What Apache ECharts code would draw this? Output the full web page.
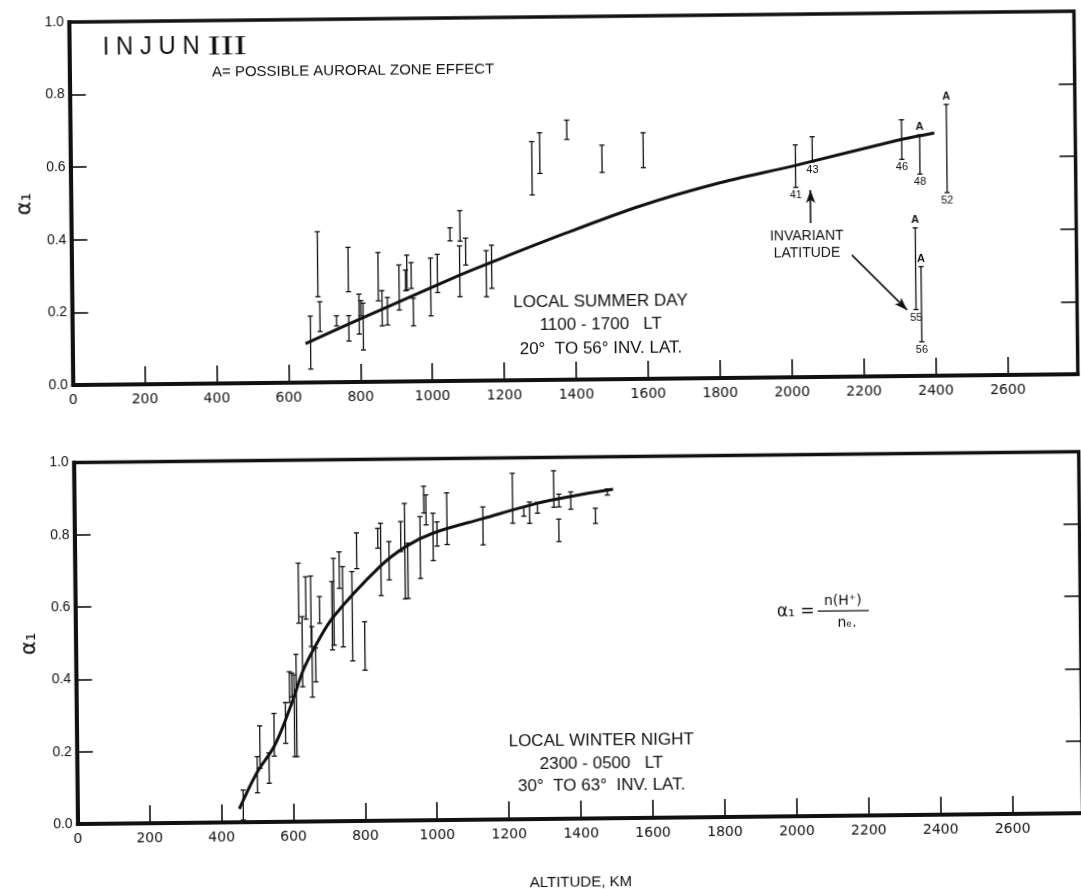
<!DOCTYPE html>
<html><head><meta charset="utf-8">
<script src="https://cdn.jsdelivr.net/npm/echarts@6/dist/echarts.min.js"></script>
<style>
html,body{margin:0;padding:0;background:#fff;overflow:hidden;}
#chart{width:1081px;height:889px;transform:rotate(-0.62deg);transform-origin:540.5px 444.5px;}
</style></head><body><div id="chart"></div>
<script>
// ---- tick labels ----
const altitudeTicks = [0,200,400,600,800,1000,1200,1400,1600,1800,2000,2200,2400,2600];
const alphaTicks = ['0.0','0.2','0.4','0.6','0.8','1.0'];

// ---- Local summer day (top panel) ----
const dayKm = [662,684,689,735,769,769,798,803,809,852,862,877,910,928,932,944,949,998,1017,1053,1081,1079,1096,1153,1168,1283,1305,1381,1478,1593,2016,2063,2312,2362,2437,2347,2362];
const dayLo = [0.037,0.236,0.140,0.155,0.249,0.113,0.132,0.182,0.088,0.223,0.154,0.156,0.197,0.250,0.252,0.256,0.153,0.180,0.244,0.386,0.385,0.232,0.319,0.231,0.254,0.510,0.569,0.662,0.570,0.582,0.523,0.593,0.597,0.556,0.504,0.183,0.094];
const dayHi = [0.183,0.415,0.222,0.183,0.371,0.183,0.242,0.224,0.217,0.356,0.251,0.232,0.321,0.307,0.348,0.327,0.229,0.339,0.349,0.422,0.469,0.372,0.393,0.358,0.373,0.657,0.681,0.715,0.645,0.678,0.640,0.662,0.706,0.664,0.747,0.408,0.301];
const dayInvLat = ['','','','','','','','','','','','','','','','','','','','','','','','','','','','','','','41','43','46','48','52','55','56'];
const dayAuroral = [0,0,0,0,0,0,0,0,0,0,0,0,0,0,0,0,0,0,0,0,0,0,0,0,0,0,0,0,0,0,0,0,0,1,1,1,1];
const dayCurveKm = [648,795,1078,1160,1373,1582,1794,2014,2312,2403];
const dayCurveA  = [0.107,0.171,0.291,0.323,0.403,0.476,0.535,0.583,0.652,0.669];

// ---- Local winter night (bottom panel) ----
const nightKm = [461,501,509,534,549,581,593,600,606,612,621,630,641,655,657,667,679,714,719,735,744,770,784,804,843,851,874,907,918,926,961,972,978,997,1008,1036,1136,1219,1250,1266,1288,1334,1347,1348,1381,1449,1483];
const nightLo = [0.006,0.081,0.149,0.107,0.182,0.217,0.330,0.345,0.180,0.180,0.549,0.373,0.560,0.484,0.344,0.386,0.548,0.474,0.487,0.644,0.482,0.443,0.698,0.417,0.754,0.623,0.666,0.744,0.613,0.614,0.669,0.850,0.817,0.718,0.758,0.762,0.760,0.819,0.838,0.818,0.846,0.862,0.767,0.863,0.856,0.816,0.894];
const nightHi = [0.089,0.181,0.266,0.191,0.300,0.330,0.415,0.411,0.406,0.463,0.715,0.567,0.677,0.679,0.539,0.480,0.622,0.663,0.727,0.745,0.704,0.690,0.797,0.551,0.809,0.823,0.772,0.827,0.877,0.767,0.840,0.924,0.900,0.849,0.825,0.905,0.865,0.957,0.864,0.877,0.876,0.963,0.829,0.898,0.904,0.858,0.911];
const nightCurveKm = [450,499,551,599,632,665,717,848,923,997,1137,1286,1378,1499];
const nightCurveA  = [0.037,0.135,0.213,0.328,0.419,0.483,0.565,0.703,0.759,0.794,0.833,0.873,0.891,0.910];

// annotation arrows (data coordinates, top panel)
const arrowUp = [[2057,0.424],[2057,0.515]];
const arrowDiag = [[2170,0.335],[2322,0.182]];

const INK = '#111';
const F = 'Liberation Sans';

function errorBars(labels, flags){
  return function(params, api){
    const x = api.value(0), lo = api.value(1), hi = api.value(2);
    const a = api.coord([x, lo]), b = api.coord([x, hi]);
    const c = 2.6, st = {stroke: INK, lineWidth: 1.3};
    const ch = [
      {type:'line', shape:{x1:a[0],y1:a[1],x2:b[0],y2:b[1]}, style:st},
      {type:'line', shape:{x1:a[0]-c,y1:a[1],x2:a[0]+c,y2:a[1]}, style:st},
      {type:'line', shape:{x1:b[0]-c,y1:b[1],x2:b[0]+c,y2:b[1]}, style:st}
    ];
    if (labels && labels[params.dataIndex]) {
      ch.push({type:'text', style:{text:labels[params.dataIndex], x:a[0], y:a[1]+8,
        align:'center', verticalAlign:'middle', textAlign:'center', textVerticalAlign:'middle',
        font:'11px "'+F+'"', fill:INK}});
    }
    if (flags && flags[params.dataIndex]) {
      ch.push({type:'text', style:{text:'A', x:b[0], y:b[1]-8,
        align:'center', verticalAlign:'middle', textAlign:'center', textVerticalAlign:'middle',
        font:'bold 11px "'+F+'"', fill:INK}});
    }
    return {type:'group', children: ch};
  };
}

function xAxisCfg(gridIndex, withName){
  const o = {
    type:'value', gridIndex, min:0, max:2795, interval:200,
    axisLine:{show:true, onZero:false, lineStyle:{color:INK, width:4}},
    axisTick:{show:true, inside:true, length:18, lineStyle:{color:INK, width:1.6}},
    axisLabel:{show:true, margin:8, color:INK, fontSize:14, fontFamily:'DejaVu Sans', showMaxLabel:false,
      formatter: v => altitudeTicks.includes(Math.round(v)) ? String(Math.round(v)) : ''},
    splitLine:{show:false}
  };
  if (withName) {
    o.name = 'ALTITUDE, KM'; o.nameLocation = 'middle'; o.nameGap = 56;
    o.nameTextStyle = {color:INK, fontSize:15, fontFamily:F};
  }
  return o;
}
function yAxisCfg(gridIndex, right){
  return {
    type:'value', gridIndex, min:0, max:1, interval:0.2, position: right ? 'right' : 'left',
    name: right ? '' : 'α₁', nameLocation:'middle', nameRotate:90, nameGap:32,
    nameTextStyle:{color:INK, fontSize:21, fontFamily:'DejaVu Sans'},
    axisLine:{show:!right, lineStyle:{color:INK, width:4}},
    axisTick:{show:true, inside:true, length:16, lineStyle:{color:INK, width:1.6}},
    axisLabel:{show:!right, margin:5, color:INK, fontSize:14, fontFamily:F,
      formatter: v => alphaTicks[Math.round(v*5)]},
    splitLine:{show:false}
  };
}

const gridBase = {show:true, borderColor:INK, borderWidth:3.5, containLabel:false, outerBoundsMode:'none'};
const C = {align:'center', verticalAlign:'middle', textAlign:'center', textVerticalAlign:'middle', fill:INK};
function txt(x, y, text, font){ return {type:'text', x, y, style:Object.assign({text, font}, C)}; }

const option = {
  animation:false,
  backgroundColor:'#fff',
  grid:[
    Object.assign({left:73.6, top:17, width:1005, height:363}, gridBase),
    Object.assign({left:73.6, top:457.5, width:1005, height:361.5}, gridBase)
  ],
  xAxis:[xAxisCfg(0,false), xAxisCfg(1,true)],
  yAxis:[yAxisCfg(0,false), yAxisCfg(0,true), yAxisCfg(1,false), yAxisCfg(1,true)],
  series:[
    {type:'custom', xAxisIndex:0, yAxisIndex:0, silent:true,
     renderItem: errorBars(dayInvLat, dayAuroral),
     data: dayKm.map((k,i)=>[k, dayLo[i], dayHi[i]])},
    {type:'line', xAxisIndex:0, yAxisIndex:0, smooth:0.3, showSymbol:false, silent:true,
     lineStyle:{color:INK, width:3},
     data: dayCurveKm.map((k,i)=>[k, dayCurveA[i]]),
     markLine:{silent:true, symbol:['none','arrow'], symbolSize:[7,13], label:{show:false},
       lineStyle:{color:INK, width:1.6, type:'solid'},
       emphasis:{disabled:true},
       data:[
         [{coord:arrowUp[0]},{coord:arrowUp[1]}],
         [{coord:arrowDiag[0]},{coord:arrowDiag[1]}]
       ]}},
    {type:'custom', xAxisIndex:1, yAxisIndex:2, silent:true,
     renderItem: errorBars(null, null),
     data: nightKm.map((k,i)=>[k, nightLo[i], nightHi[i]])},
    {type:'line', xAxisIndex:1, yAxisIndex:2, smooth:0.35, showSymbol:false, silent:true,
     lineStyle:{color:INK, width:3},
     data: nightCurveKm.map((k,i)=>[k, nightCurveA[i]])}
  ],
  graphic:[
    {type:'text', x:107, y:43, scaleX:0.92, style:{text:'I N J U N', font:'26px "'+F+'"', fill:INK, align:'left', verticalAlign:'middle', textAlign:'left', textVerticalAlign:'middle'}},
    {type:'text', x:212, y:44, scaleX:1.45, style:{text:'III', font:'27px "Liberation Serif"', fill:INK, align:'left', verticalAlign:'middle', textAlign:'left', textVerticalAlign:'middle'}},
    {type:'text', x:216, y:69, style:{text:'A= POSSIBLE AURORAL ZONE EFFECT', font:'15px "'+F+'"', fill:INK, align:'left', verticalAlign:'middle', textAlign:'left', textVerticalAlign:'middle'}},
    txt(602, 302.6, 'LOCAL SUMMER DAY', '17px "'+F+'"'),
    txt(602, 325.6, '1100 - 1700   LT', '17px "'+F+'"'),
    txt(602, 349, '20°  TO 56° INV. LAT.', '17px "'+F+'"'),
    txt(809, 239.6, 'INVARIANT', '14px "'+F+'"'),
    txt(809, 256.2, 'LATITUDE', '14px "'+F+'"'),
    txt(598, 741.2, 'LOCAL WINTER NIGHT', '17px "'+F+'"'),
    txt(598, 764.2, '2300 - 0500   LT', '17px "'+F+'"'),
    txt(598, 786.2, '30°  TO 63°  INV. LAT.', '17px "'+F+'"'),
    {type:'text', x:775, y:615, style:{text:'α₁ =', font:'17px "DejaVu Sans"', fill:INK, align:'left', verticalAlign:'middle', textAlign:'left', textVerticalAlign:'middle'}},
    txt(841, 604, 'n(H⁺)', '14px "DejaVu Sans"'),
    {type:'line', shape:{x1:816, y1:614.2, x2:867, y2:614.2}, style:{stroke:INK, lineWidth:1.3}},
    txt(845, 626, 'nₑ.', '14px "DejaVu Sans"')
  ]
};

const chart = echarts.init(document.getElementById('chart'), null, {renderer:'canvas'});
chart.setOption(option);
</script>
</body></html>
